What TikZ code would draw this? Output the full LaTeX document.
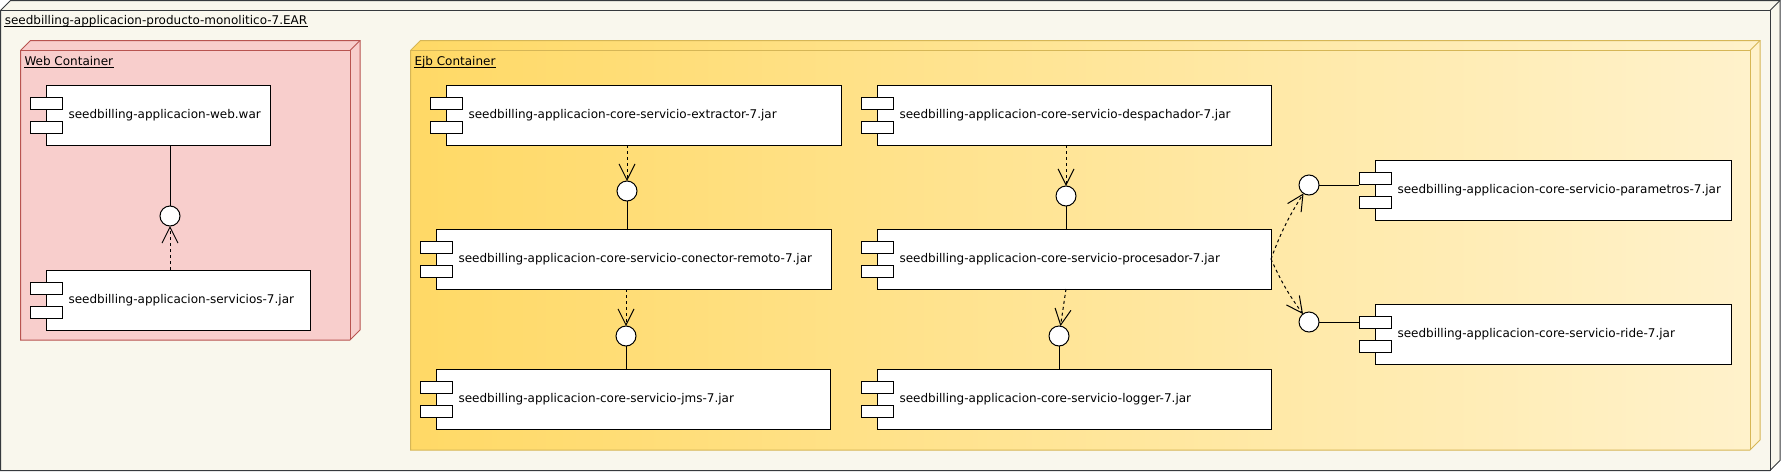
\documentclass[tikz,border=0pt]{standalone}
\usepackage{fontspec}
\setmainfont{DejaVu Sans}
\usetikzlibrary{arrows.meta}
\definecolor{earfill}{HTML}{F9F7ED}
\definecolor{earline}{HTML}{36393D}
\definecolor{webfill}{HTML}{F8CECC}
\definecolor{webline}{HTML}{B85450}
\definecolor{ejbdark}{HTML}{FFD966}
\definecolor{ejblight}{HTML}{FFF2CC}
\definecolor{ejbline}{HTML}{D6B656}
% 3D "node" box: x0 y0 x1 y1 (front face), fill style, line colour
\newcommand\nodebox[6]{%
  \path[#5,draw=#6] (#1,#2) -- (#1+10,#2-10) -- (#3+10,#2-10) -- (#3+10,#4-10) -- (#3,#4) -- (#1,#4) -- cycle;
  \draw[#6] (#1,#4) -- (#1,#2) -- (#3,#2) -- (#3,#4);
  \draw[#6] (#3,#2) -- (#3+10,#2-10);
}
% UML component: name, x0, y0, width, text
\newcommand\comp[5]{%
  \node[compbox, minimum width=#4pt] (#1) at (#2,#3) {};
  \draw[comptab] ([xshift=-16pt,yshift=-12pt]#1.north west) rectangle ++(32pt,-12pt);
  \draw[comptab] ([xshift=-16pt,yshift=-36pt]#1.north west) rectangle ++(32pt,-12pt);
  \node[comptext] (#1-t) at ([xshift=22pt]#1.west) {#5};
}
\begin{document}
\begin{tikzpicture}[x=1pt,y=-1pt,line width=1pt,
  compbox/.style={draw=black, fill=white, anchor=north west, minimum height=60pt, inner sep=0pt, outer sep=0pt},
  comptab/.style={draw=black, fill=white},
  comptext/.style={anchor=west, inner sep=0pt, font=\fontsize{12}{14}\selectfont, text=black},
  lbl/.style={anchor=base west, inner sep=0pt, font=\fontsize{12}{14}\selectfont, text=black},
  ul/.style={draw=black, line width=0.9pt},
  iface/.style={circle, draw=black, fill=white, minimum size=20pt, inner sep=0pt, outer sep=0pt},
  provide/.style={draw=black},
  require/.style={draw=black, dash pattern=on 3pt off 3pt, -{Straight Barb[length=16pt,width=16pt]}},
]
\useasboundingbox (0,0) rectangle (1781,472);
% containers
\nodebox{0.5}{10.5}{1770}{470.5}{fill=earfill}{earline}
\nodebox{20.5}{50.5}{350}{340}{fill=webfill}{webline}
\nodebox{410.5}{50.5}{1750}{450}{left color=ejbdark,right color=ejblight}{ejbline}
% container labels
\node[lbl] (earlbl) at (4.3,24.5) {seedbilling-applicacion-producto-monolitico-7.EAR};
\draw[ul] ([yshift=-2pt]earlbl.base west) -- ([yshift=-2pt]earlbl.base east);
\node[lbl] (weblbl) at (24,65.5) {Web Container};
\draw[ul] ([yshift=-2pt]weblbl.base west) -- ([yshift=-2pt]weblbl.base east);
\node[lbl] (ejblbl) at (414,65.5) {Ejb Container};
\draw[ul] ([yshift=-2pt]ejblbl.base west) -- ([yshift=-2pt]ejblbl.base east);
% components
\comp{web}{46}{85}{224}{seedbilling-applicacion-web.war}
\comp{serv}{46}{270}{264}{seedbilling-applicacion-servicios-7.jar}
\comp{ext}{446}{85}{395}{seedbilling-applicacion-core-servicio-extractor-7.jar}
\comp{con}{436}{229}{395}{seedbilling-applicacion-core-servicio-conector-remoto-7.jar}
\comp{jms}{436}{369}{394}{seedbilling-applicacion-core-servicio-jms-7.jar}
\comp{desp}{877}{85}{394}{seedbilling-applicacion-core-servicio-despachador-7.jar}
\comp{proc}{877}{229}{394}{seedbilling-applicacion-core-servicio-procesador-7.jar}
\comp{log}{877}{369}{394}{seedbilling-applicacion-core-servicio-logger-7.jar}
\comp{par}{1375}{160}{356}{seedbilling-applicacion-core-servicio-parametros-7.jar}
\comp{ride}{1375}{304}{356}{seedbilling-applicacion-core-servicio-ride-7.jar}
% interfaces
\node[iface] (iw) at (170,216) {};
\node[iface] (iext) at (627,191) {};
\node[iface] (icon) at (626,336) {};
\node[iface] (idesp) at (1066,196) {};
\node[iface] (ilog) at (1059,336) {};
\node[iface] (ipar) at (1309,185) {};
\node[iface] (iride) at (1309,322) {};
\coordinate (partab) at ([xshift=-16pt]par.west);
\coordinate (ridetab) at ([xshift=-16pt]ride.west);
% provided (solid)
\draw[provide] (iw) -- (iw |- web.south);
\draw[provide] (iext) -- (iext |- con.north);
\draw[provide] (icon) -- (icon |- jms.north);
\draw[provide] (idesp) -- (idesp |- proc.north);
\draw[provide] (ilog) -- (ilog |- log.north);
\draw[provide] (ipar) -- (partab |- ipar);
\draw[provide] (iride) -- (ridetab |- iride);
% required (dashed, open arrow)
\draw[require] (iw |- serv.north) -- (iw);
\draw[require] (iext |- ext.south) -- (iext);
\draw[require] (icon |- con.south) -- (icon);
\draw[require] (idesp |- desp.south) -- (idesp);
\draw[require] (idesp |- proc.south) -- (ilog);
\draw[require] (proc.east) to[bend left=6] (ipar);
\draw[require] (proc.east) to[bend right=6] (iride);
\end{tikzpicture}
\end{document}
